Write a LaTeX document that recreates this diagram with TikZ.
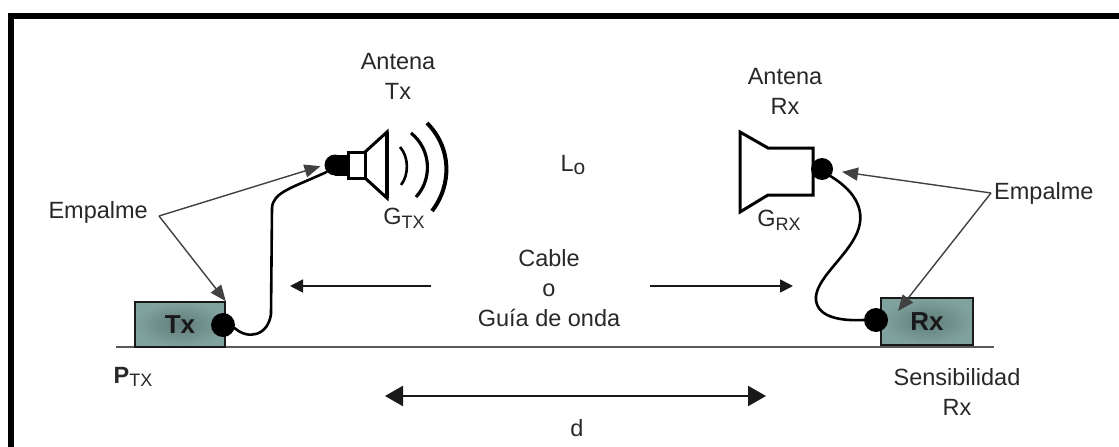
\documentclass[tikz,border=0pt]{standalone}
\usepackage{fontspec}
\setmainfont{Liberation Sans}
\usetikzlibrary{arrows.meta}
\definecolor{ink}{RGB}{25,25,25}
\definecolor{labelgray}{RGB}{40,40,40}
\definecolor{boxfill}{RGB}{128,162,158}
\definecolor{boxdark}{RGB}{96,124,120}
\definecolor{groundgray}{RGB}{90,90,90}
\definecolor{pointergray}{RGB}{65,65,65}
% lowered index used in G_TX, P_TX, L_o
\newcommand{\lowidx}[2][18]{\raisebox{-0.3ex}{\fontsize{#1}{#1}\selectfont #2}}

\begin{document}
\begin{tikzpicture}[x=1pt,y=-1pt,
  lbl/.style={font=\fontsize{23.5}{30}\selectfont, text=labelgray, inner sep=0pt, align=center},
  unitbox/.style={draw=ink, line width=1.6pt, inner color=boxdark, outer color=boxfill,
    font=\fontsize{26}{26}\selectfont\bfseries, text=ink, inner sep=0pt},
  dot/.style={circle, fill=black, inner sep=0pt, minimum size=24pt},
  cablepath/.style={draw=black, line width=2.6pt, line cap=round, line join=round},
  pointer/.style={draw=pointergray, line width=1.4pt, -{Triangle[length=16pt,width=13pt]}},
  flowarrow/.style={draw=ink, line width=1.8pt, -{Triangle[length=13pt,width=13pt]}},
  distarrow/.style={draw=ink, line width=2.2pt, {Triangle[length=18pt,width=20pt]}-{Triangle[length=18pt,width=20pt]}},
  hornline/.style={draw=black, line width=3pt, line join=miter}
]
\useasboundingbox (0,0) rectangle (1119,447);
\fill[white] (0,0) rectangle (1119,447);

% outer frame (left and top edges)
\draw[line width=5.5pt, line join=miter] (11,447) -- (11,16) -- (1119,16);

% ground line
\coordinate (gL) at (116,347);
\coordinate (gR) at (994,347);
\draw[groundgray, line width=2pt] (gL) -- (gR);

% transmitter and receiver units
\node[unitbox, minimum width=90pt, minimum height=45pt] (tx) at (180,324.5) {Tx};
\node[unitbox, minimum width=92pt, minimum height=47pt] (rx) at (927,321.5) {Rx};

% transmitting horn antenna
\node[dot, minimum size=21pt] (txant) at (335,165) {};
\fill[black] (335,155) rectangle (348,175.5);
\draw[hornline] (348,152) rectangle (365,178);
\draw[hornline] (365,152) -- (387,132) -- (387,198) -- (365,178);
\draw[black, line width=4.5pt] (387,132) -- (387,198);
% radiated waves
\draw[black, line width=2.6pt] (400,147) .. controls (409,157) and (409,175) .. (401,185);
\draw[black, line width=3.2pt] (411,133) .. controls (432,150) and (432,180) .. (416,197);
\draw[black, line width=4pt] (427,123) .. controls (452,148) and (452,185) .. (432,211);

% receiving horn antenna
\draw[hornline] (740,132) -- (768,148) -- (813,148) -- (813,195) -- (768,195) -- (740,212) -- cycle;
\node[dot, minimum size=22pt] (rxant) at (822,169) {};

% splice pointers
\node[lbl, anchor=east] (empL) at (148,212) {Empalme};
\coordinate (empLv) at (159,216);
\draw[pointer, shorten >=4pt] (empLv) -- (txant.west);
\draw[pointer] (empLv) -- (tx.north east);

\node[lbl, anchor=west] (empR) at (994,193) {Empalme};
\coordinate (empRv) at (991,193);
\coordinate (rxin) at (898,311);
\draw[pointer, shorten >=9pt] (empRv) -- (rxant);
\draw[pointer] (empRv) -- (rxin);

% connector dots on the units
\node[dot] (txdot) at (223,325) {};
\node[dot] (rxdot) at (876,320) {};

% feed cables
\draw[cablepath] (txdot.-15) .. controls (248,340) and (268,336) .. (271,314)
  -- (272,208) .. controls (273,192) and (292,188) .. (txant.-140);
\draw[cablepath] (rxant.-40) .. controls (850,188) and (868,207) .. (857,233)
  .. controls (846,258) and (814,280) .. (816,300)
  .. controls (818,318) and (842,321) .. (rxdot.west);

% antenna labels
\node[lbl] (antTx) at (398,76) {Antena\\Tx};
\node[lbl] (antRx) at (785,91) {Antena\\Rx};
\node[lbl] (gtx) at (404,218) {G\lowidx{TX}};
\node[lbl] (grx) at (779,220) {G\lowidx{RX}};
\node[lbl] (loss) at (573,165) {L\lowidx[21]{o}};

% transmission line label and arrows
\node[lbl] (cable) at (549,288) {Cable\\o\\Guía de onda};
\coordinate (cabL) at (290,286);
\coordinate (cabR) at (793,286);
\draw[flowarrow] (431,286) -- (cabL);
\draw[flowarrow] (650,286) -- (cabR);

% power and sensitivity
\node[lbl] (ptx) at (133,377) {\textbf{P}\lowidx{TX}};
\node[lbl] (sens) at (957,392) {Sensibilidad\\Rx};

% distance
\coordinate (dL) at (385,396);
\coordinate (dR) at (766,396);
\draw[distarrow] (dL) -- (dR);
\node[lbl] (dist) at (577,428) {d};
\end{tikzpicture}
\end{document}
